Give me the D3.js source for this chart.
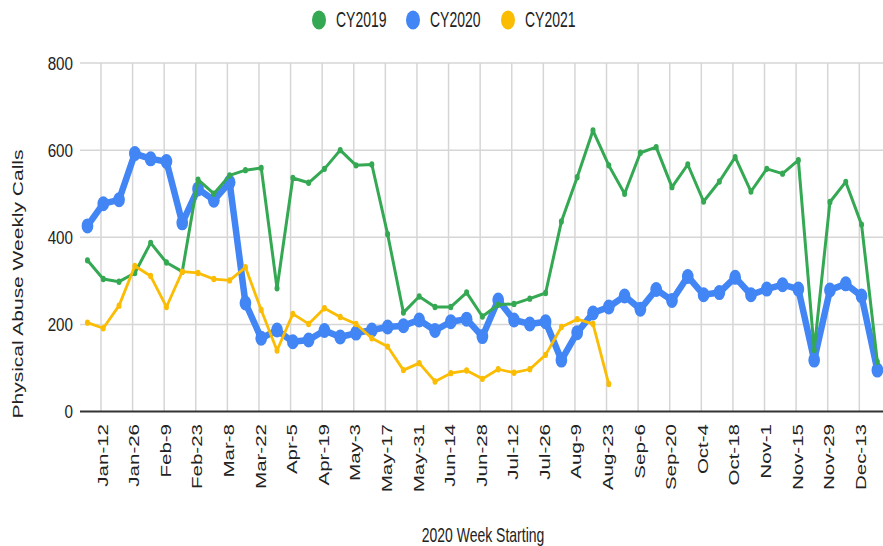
<!DOCTYPE html>
<html>
<head>
<meta charset="utf-8">
<script src="https://cdn.jsdelivr.net/npm/d3@7"></script>
<style>
  html, body { margin: 0; padding: 0; background: #fff; }
  svg { display: block; font-family: "Liberation Sans", Arial, sans-serif; }
</style>
</head>
<body>
<script>
// ---- data ----
const seriesNames = ["CY2019", "CY2020", "CY2021"];
const seriesColors = ["#34a853", "#4285f4", "#fbbc04"];
const firstWeek = "2020-01-06";   // week index 0; one point per week
const cy2019 = [347, 304, 298, 318, 387, 342, 321, 532, 500, 542, 554, 559, 283, 536, 525, 557, 600, 565, 567, 407,
                227, 264, 240, 240, 273, 218, 245, 247, 259, 272, 436, 538, 645, 565, 500, 594, 607, 515, 567, 482,
                528, 584, 505, 557, 546, 577, 141, 481, 527, 429, 114];
const cy2020 = [426, 477, 486, 592, 580, 574, 433, 511, 485, 526, 249, 168, 187, 160, 164, 186, 171, 180, 187, 194,
                197, 210, 186, 206, 212, 172, 256, 210, 201, 206, 118, 181, 226, 240, 265, 235, 280, 255, 310, 268,
                273, 308, 268, 281, 291, 281, 118, 279, 293, 265, 95];
const cy2021 = [204, 191, 243, 334, 311, 240, 321, 318, 304, 301, 331, 233, 140, 224, 201, 237, 217, 201, 168, 149,
                95, 111, 69, 88, 94, 75, 97, 89, 97, 130, 194, 212, 201, 63];
const tickLabels = ["Jan-12", "Jan-26", "Feb-9", "Feb-23", "Mar-8", "Mar-22", "Apr-5", "Apr-19", "May-3", "May-17",
                    "May-31", "Jun-14", "Jun-28", "Jul-12", "Jul-26", "Aug-9", "Aug-23", "Sep-6", "Sep-20", "Oct-4",
                    "Oct-18", "Nov-1", "Nov-15", "Nov-29", "Dec-13"];
const yTicks = [0, 200, 400, 600, 800];

// ---- layout ----
const W = 883, H = 546;
const plotL = 80, plotR = 883, plotT = 63, plotB = 411.5;
const SX = 0.7; // horizontal squeeze of text in the reference

const parse = d3.timeParse("%Y-%m-%d");
const parseTick = d3.timeParse("%Y-%b-%d");
const week0 = parse(firstWeek);
const weekDate = i => d3.timeDay.offset(week0, 7 * i);
const tickDates = tickLabels.map(t => parseTick("2020-" + t));

const x = d3.scaleTime()
  .domain([tickDates[0], tickDates[tickDates.length - 1]])
  .range([101, 859.3]);
const y = d3.scaleLinear().domain([0, 800]).range([plotB, plotT]);

const svg = d3.select("body").append("svg").attr("width", W).attr("height", H);

// gridlines
const grid = svg.append("g");
grid.selectAll("line.v").data(tickDates).join("line")
  .attr("x1", d => x(d)).attr("x2", d => x(d))
  .attr("y1", plotT).attr("y2", plotB)
  .attr("stroke", "#d6d6d6").attr("stroke-width", 1.5);
grid.selectAll("line.h").data(yTicks.filter(v => v > 0)).join("line")
  .attr("x1", plotL).attr("x2", plotR)
  .attr("y1", d => y(d)).attr("y2", d => y(d))
  .attr("stroke", "#d6d6d6").attr("stroke-width", 1.5);

// y labels
svg.append("g").selectAll("text").data(yTicks).join("text")
  .attr("transform", d => `translate(73,${y(d)}) scale(0.8,1)`)
  .attr("text-anchor", "end").attr("dy", "0.36em")
  .attr("font-size", 19).attr("fill", "#222")
  .text(d => d);

// x labels
svg.append("g").selectAll("text").data(tickDates).join("text")
  .attr("transform", d => `translate(${x(d) + 1},424) scale(0.75,1) rotate(-90)`)
  .attr("text-anchor", "end").attr("dy", "0.36em")
  .attr("font-size", 20.5).attr("fill", "#222")
  .text((d, i) => tickLabels[i]);

// series
const line = d3.line().x(d => x(d.date)).y(d => y(d.v));
const toPts = arr => arr.map((v, i) => ({ date: weekDate(i), v }));
const seriesData = [cy2019, cy2020, cy2021];
const styles = [
  { lw: 3, r: 3.2 },
  { lw: 6.5, r: 7.5 },
  { lw: 2.8, r: 3.2 }
];
const drawOrder = [1, 0, 2];
drawOrder.forEach(si => {
  const pts = toPts(seriesData[si]);
  const g = svg.append("g");
  g.append("path").datum(pts)
    .attr("d", line).attr("fill", "none")
    .attr("stroke", seriesColors[si]).attr("stroke-width", styles[si].lw)
    .attr("stroke-linejoin", "round").attr("stroke-linecap", "round");
  g.selectAll("ellipse").data(pts).join("ellipse")
    .attr("cx", d => x(d.date)).attr("cy", d => y(d.v))
    .attr("rx", styles[si].r * 0.78).attr("ry", styles[si].r)
    .attr("fill", seriesColors[si]);
});

// baseline
svg.append("line").attr("x1", plotL).attr("x2", plotR)
  .attr("y1", y(0)).attr("y2", y(0))
  .attr("stroke", "#333").attr("stroke-width", 2);

// axis titles
svg.append("text")
  .attr("transform", `translate(483,542) scale(${SX},1)`)
  .attr("text-anchor", "middle").attr("font-size", 20).attr("fill", "#222")
  .text("2020 Week Starting");
svg.append("text")
  .attr("transform", `translate(23,284) scale(0.72,1) rotate(-90)`)
  .attr("text-anchor", "middle").attr("font-size", 21).attr("fill", "#222")
  .text("Physical Abuse Weekly Calls");

// legend
const legendX = [319, 413, 508];
const lg = svg.append("g");
seriesNames.forEach((n, i) => {
  lg.append("ellipse").attr("cx", legendX[i]).attr("cy", 20)
    .attr("rx", 7).attr("ry", 9.5).attr("fill", seriesColors[i]);
  lg.append("text")
    .attr("transform", `translate(${legendX[i] + 17},27) scale(0.65,1)`)
    .attr("font-size", 21.5).attr("fill", "#222")
    .text(n);
});
</script>
</body>
</html>
